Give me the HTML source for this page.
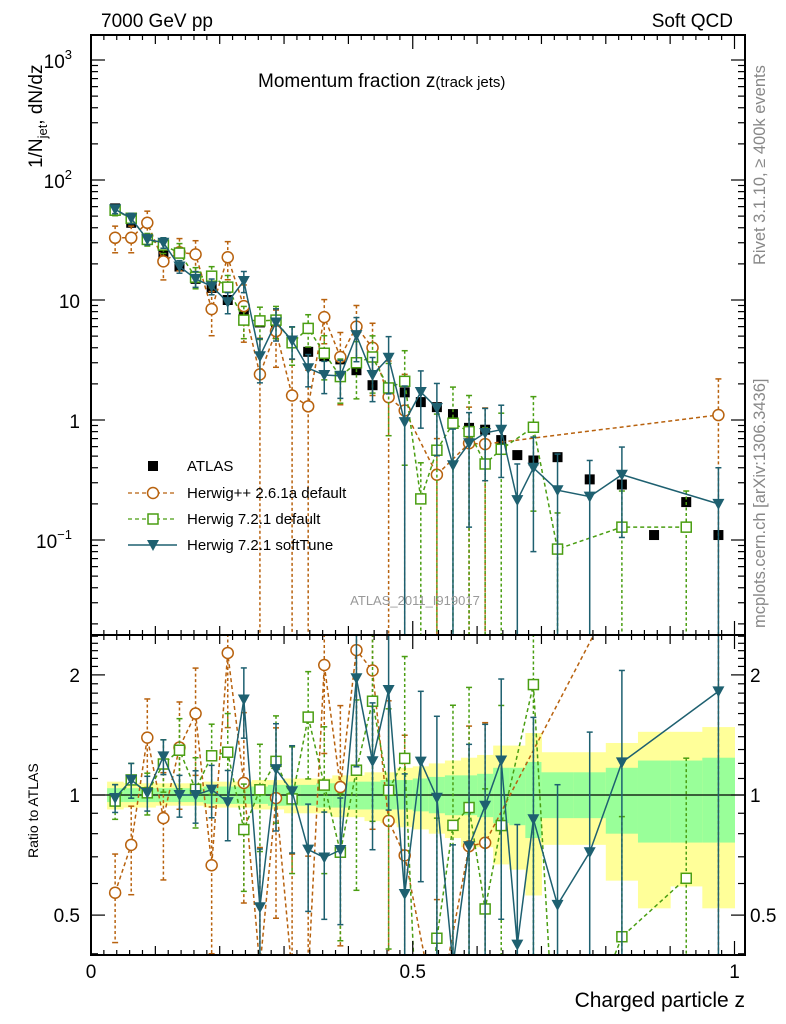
<!DOCTYPE html>
<html><head><meta charset="utf-8"><style>
html,body{margin:0;padding:0;background:#fff;width:786px;height:1024px;overflow:hidden;}
svg{display:block;font-family:"Liberation Sans",sans-serif;}
</style></head><body>
<svg id="chart" width="786" height="1024" viewBox="0 0 786 1024" xmlns="http://www.w3.org/2000/svg">
<defs>
<clipPath id="clipMain"><rect x="91" y="35" width="654" height="600"/></clipPath>
<clipPath id="clipRatio"><rect x="91" y="635" width="654" height="320"/></clipPath>
</defs>
<g id="bands" clip-path="url(#clipRatio)"></g>
<g id="plotMain" clip-path="url(#clipMain)"></g>
<g id="plotRatio" clip-path="url(#clipRatio)"></g>
<g id="axes"></g>
<text x="101" y="27" font-size="19">7000 GeV pp</text>
<text x="733" y="27" font-size="19" text-anchor="end">Soft QCD</text>
<text x="258" y="87" font-size="19">Momentum fraction z<tspan font-size="15">(track jets)</tspan></text>
<text transform="translate(42,168) rotate(-90)" font-size="19">1/N<tspan font-size="13" dy="5">jet</tspan><tspan dy="-5">, dN/dz</tspan></text>
<text transform="translate(765,265) rotate(-90)" font-size="16.5" fill="#888">Rivet 3.1.10, ≥ 400k events</text>
<text transform="translate(765,628) rotate(-90)" font-size="16.5" fill="#888">mcplots.cern.ch [arXiv:1306.3436]</text>
<text x="415" y="605" font-size="13" fill="#999" text-anchor="middle">ATLAS_2011_I919017</text>
<text transform="translate(38,858) rotate(-90)" font-size="14">Ratio to ATLAS</text>
<text x="745" y="1007" font-size="21" text-anchor="end">Charged particle z</text>
<g>
 <rect x="148" y="461" width="10" height="10" fill="#000"/>
 <text x="187" y="471" font-size="15">ATLAS</text>
 <line x1="128" y1="493" x2="177" y2="493" stroke="#b8620e" stroke-width="1.3" stroke-dasharray="4,3"/>
 <circle cx="153" cy="493" r="5.5" fill="#fff" stroke="#b8620e" stroke-width="1.5"/>
 <text x="187" y="498" font-size="15">Herwig++ 2.6.1a default</text>
 <line x1="128" y1="519" x2="177" y2="519" stroke="#4a9e12" stroke-width="1.3" stroke-dasharray="4,3"/>
 <rect x="148" y="514" width="10" height="10" fill="#fff" stroke="#4a9e12" stroke-width="1.5"/>
 <text x="187" y="524" font-size="15">Herwig 7.2.1 default</text>
 <line x1="128" y1="545" x2="177" y2="545" stroke="#1e6070" stroke-width="1.5"/>
 <path d="M147,540 L159,540 L153,551 Z" fill="#1e6070"/>
 <text x="187" y="550" font-size="15">Herwig 7.2.1 softTune</text>
</g>
</svg>
<script>
const zVals=[0.0375,0.0625,0.0875,0.1125,0.1375,0.1625,0.1875,0.2125,0.2375,0.2625,0.2875,0.3125,0.3375,0.3625,0.3875,0.4125,0.4375,0.4625,0.4875,0.5125,0.5375,0.5625,0.5875,0.6125,0.6375,0.6625,0.6875,0.725,0.775,0.825,0.875,0.925,0.975];
const binLo=[0.025,0.05,0.075,0.1,0.125,0.15,0.175,0.2,0.225,0.25,0.275,0.3,0.325,0.35,0.375,0.4,0.425,0.45,0.475,0.5,0.525,0.55,0.575,0.6,0.625,0.65,0.675,0.7,0.75,0.8,0.85,0.9,0.95];
const binHi=[0.05,0.075,0.1,0.125,0.15,0.175,0.2,0.225,0.25,0.275,0.3,0.325,0.35,0.375,0.4,0.425,0.45,0.475,0.5,0.525,0.55,0.575,0.6,0.625,0.65,0.675,0.7,0.75,0.8,0.85,0.9,0.95,1.0];
const atlasVals=[58,44,31.6,24,19,15,12.6,10,8.3,6.5,5.6,4.5,3.7,3.4,3.2,2.6,1.95,1.8,1.7,1.41,1.28,1.12,0.86,0.83,0.68,0.51,0.46,0.49,0.32,0.29,0.11,0.207,0.11];
const herwigppVals=[33,33,44,21,25,24,8.4,22.7,8.9,2.4,5.5,1.6,1.3,7.2,3.35,6.0,4.0,1.55,1.2,null,0.35,null,0.64,0.63,null,null,null,null,null,null,null,null,1.1];
const herwigppErr=[0.25,0.25,0.25,0.3,0.3,0.3,0.4,0.35,0.5,1,0.5,1,1,0.4,0.6,0.5,0.6,1,1,0,1,0,1,1,0,0,0,0,0,0,0,0,1];
const herwig7Vals=[56,48,32,28.7,24.6,15.5,15.8,12.8,6.8,6.7,6.8,4.4,5.8,3.6,2.3,3.0,3.35,1.85,2.1,0.22,0.56,0.94,0.8,0.43,0.57,null,0.87,0.084,null,0.128,null,0.128,null];
const herwig7Err=[0.1,0.1,0.12,0.15,0.2,0.2,0.2,0.25,0.3,0.3,0.3,0.35,0.3,0.4,0.4,0.5,0.5,0.6,0.8,1,1,1,1,1,1,0,0.8,1,0,1,0,1,0];
const softTuneVals=[57,48,32,30,19,15,13,9.6,14.4,3.4,6.5,4.6,2.7,2.37,2.33,5.1,2.37,3.3,0.96,1.71,1.26,0.42,0.64,0.78,0.83,0.215,0.4,0.26,0.23,0.35,null,null,0.2];
const softTuneErr=[0.08,0.1,0.1,0.1,0.12,0.15,0.15,0.2,0.2,0.4,0.3,0.3,0.3,0.3,0.35,0.4,0.4,0.5,1,0.5,0.6,1,0.8,0.6,0.6,1,0.8,1,1,0.7,0,0,1];
const bandYellowUp=[1.08,1.07,1.07,1.07,1.07,1.07,1.08,1.08,1.08,1.09,1.09,1.1,1.1,1.1,1.12,1.12,1.14,1.14,1.17,1.18,1.2,1.22,1.24,1.26,1.33,1.33,1.43,1.28,1.28,1.35,1.44,1.44,1.48];
const bandYellowDn=[0.92,0.93,0.93,0.94,0.94,0.94,0.93,0.93,0.93,0.92,0.92,0.9,0.9,0.9,0.88,0.88,0.86,0.85,0.83,0.82,0.8,0.78,0.74,0.74,0.67,0.65,0.56,0.75,0.75,0.61,0.52,0.59,0.52];
const bandGreenUp=[1.04,1.04,1.04,1.04,1.04,1.04,1.05,1.05,1.05,1.05,1.06,1.06,1.06,1.07,1.07,1.08,1.08,1.09,1.09,1.1,1.11,1.12,1.12,1.13,1.17,1.17,1.21,1.14,1.14,1.17,1.22,1.22,1.24];
const bandGreenDn=[0.96,0.96,0.96,0.96,0.96,0.96,0.95,0.95,0.95,0.95,0.94,0.94,0.94,0.93,0.93,0.92,0.92,0.92,0.92,0.91,0.9,0.89,0.89,0.88,0.85,0.84,0.78,0.875,0.875,0.8,0.76,0.76,0.76];
const mainTicks=[-1,0,1,2,3];
const mainTickLabels=["10","1","10","10","10"];
const mainTickSup=["−1","","","2","3"];
const ratioTicks=[0.5,1,2];
const ratioTickLabels=["0.5","1","2"];
const xTicks=[0,0.5,1];
const xTickLabels=["0","0.5","1"];

const NS="http://www.w3.org/2000/svg";
const X0=91,X1=745,ZMAX=(745-91)/643.5;
function xS(z){return 91+z*643.5;}
function yM(v){return 420-120*Math.log10(v);}
function yR(r){return 795-399*Math.log10(r);}
function mk(tag,attrs,parent){const e=document.createElementNS(NS,tag);for(const k in attrs)e.setAttribute(k,attrs[k]);parent.appendChild(e);return e;}
const gMain=document.getElementById('plotMain'),gRatio=document.getElementById('plotRatio'),gBands=document.getElementById('bands'),gAxes=document.getElementById('axes');

for(let i=0;i<binLo.length;i++){
  const a=xS(binLo[i]),b=xS(binHi[i]);
  const y1=mk('rect',{x:a,y:yR(bandYellowUp[i]),width:b-a+0.5,height:yR(bandYellowDn[i])-yR(bandYellowUp[i]),fill:'#ffff99'},gBands);
  
  
  const g1=mk('rect',{x:a,y:yR(bandGreenUp[i]),width:b-a+0.5,height:yR(bandGreenDn[i])-yR(bandGreenUp[i]),fill:'#99ff99'},gBands);
  
  
}
mk('line',{x1:X0,y1:yR(1),x2:X1,y2:yR(1),stroke:'#000','stroke-width':1.2},gBands);

function drawSeries(vals,errs,color,dashed,marker,name,parent,yf,isRatio){
  const pts=[];
  const g=mk('g',{},parent);
  
  
  const yBottom=isRatio?956:636, yTop=isRatio?634:34;
  for(let i=0;i<vals.length;i++){
    if(vals[i]==null)continue;
    let v=isRatio?vals[i]/atlasVals[i]:vals[i];
    const x=xS(zVals[i]),y=yf(v);
    pts.push([x,y]);
    const f=errs[i];
    const yt=Math.max(yTop,yf(v*(1+f)));
    const yb=f>=1?yBottom:Math.min(yBottom,yf(v*(1-f)));
    const da=dashed?{'stroke-dasharray':'3,2.5'}:{};
    mk('line',Object.assign({x1:x,y1:yt,x2:x,y2:yb,stroke:color,'stroke-width':1.5},da),g);
    mk('line',{x1:x-3,y1:yt,x2:x+3,y2:yt,stroke:color,'stroke-width':1.5},g);
    if(f<1)mk('line',{x1:x-3,y1:yb,x2:x+3,y2:yb,stroke:color,'stroke-width':1.5},g);
  }
  const d=pts.map((p,k)=>(k?'L':'M')+p[0].toFixed(1)+','+p[1].toFixed(1)).join(' ');
  mk('path',Object.assign({d:d,fill:'none',stroke:color,'stroke-width':1.5},dashed?{'stroke-dasharray':'4,3'}:{}),g);
  pts.forEach(([x,y])=>{
    let m;
    if(marker==='circle')m=mk('circle',{cx:x,cy:y,r:5.5,fill:'#fff',stroke:color,'stroke-width':1.5},g);
    else if(marker==='osq')m=mk('rect',{x:x-5,y:y-5,width:10,height:10,fill:'#fff',stroke:color,'stroke-width':1.5},g);
    else m=mk('path',{d:`M${x-6},${y-5} L${x+6},${y-5} L${x},${y+6} Z`,fill:color},g);
    
    
  });
}
const gA=mk('g',{},gMain);


for(let i=0;i<atlasVals.length;i++){
  const r=mk('rect',{x:xS(zVals[i])-5,y:yM(atlasVals[i])-5,width:10,height:10,fill:'#000'},gA);
  
  
}
drawSeries(herwigppVals,herwigppErr,'#b8620e',true,'circle','herwigpp-series',gMain,yM,false);
drawSeries(herwig7Vals,herwig7Err,'#4a9e12',true,'osq','herwig7-default-series',gMain,yM,false);
drawSeries(softTuneVals,softTuneErr,'#1e6070',false,'tri','herwig7-softtune-series',gMain,yM,false);
drawSeries(herwigppVals,herwigppErr,'#b8620e',true,'circle','herwigpp-series',gRatio,yR,true);
drawSeries(herwig7Vals,herwig7Err,'#4a9e12',true,'osq','herwig7-default-series',gRatio,yR,true);
drawSeries(softTuneVals,softTuneErr,'#1e6070',false,'tri','herwig7-softtune-series',gRatio,yR,true);

mk('rect',{x:X0,y:35,width:X1-X0,height:600,fill:'none',stroke:'#000','stroke-width':2},gAxes);
mk('rect',{x:X0,y:635,width:X1-X0,height:320,fill:'none',stroke:'#000','stroke-width':2},gAxes);
for(let d=-2;d<=3;d++){for(let m=1;m<=9;m++){
  const y=yM(m*Math.pow(10,d)); if(y<36||y>634)continue;
  const L=m===1?14:7;
  mk('line',{x1:X0,y1:y,x2:X0+L,y2:y,stroke:'#000','stroke-width':1.2},gAxes);
  mk('line',{x1:X1,y1:y,x2:X1-L,y2:y,stroke:'#000','stroke-width':1.2},gAxes);
}}
mainTicks.forEach((p,i)=>{
  const t=mk('text',{x:mainTickSup[i]?72:80,y:yM(Math.pow(10,p))+8,'font-size':19,'text-anchor':'end'},gAxes);
  t.textContent=mainTickLabels[i];
  
  
  if(mainTickSup[i]){const s=mk('tspan',{'font-size':13,dy:-9},t);s.textContent=mainTickSup[i];}
});
for(let r=0.4;r<2.55;r+=0.1){
  const rr=Math.round(r*10)/10;const y=yR(rr);if(y<636||y>954)continue;
  const L=(rr===0.5||rr===1||rr===2)?14:7;
  mk('line',{x1:X0,y1:y,x2:X0+L,y2:y,stroke:'#000','stroke-width':1.2},gAxes);
  mk('line',{x1:X1,y1:y,x2:X1-L,y2:y,stroke:'#000','stroke-width':1.2},gAxes);
}
ratioTicks.forEach((r,i)=>{
  const t=mk('text',{x:80,y:yR(r)+7,'font-size':19,'text-anchor':'end'},gAxes);
  t.textContent=ratioTickLabels[i];
  
  
  const t2=mk('text',{x:750,y:yR(r)+7,'font-size':19},gAxes);
  t2.textContent=ratioTickLabels[i];
  
  
});
for(let k=0;k<=50;k++){
  const z=k*0.02; if(z>ZMAX)break;
  const major=(k%25===0),mid=(k%5===0);
  const L=major?14:(mid?9:5);
  const x=xS(z);
  [[35,1],[635,-1],[635,1],[955,-1]].forEach(([y0,s])=>mk('line',{x1:x,y1:y0,x2:x,y2:y0+s*L,stroke:'#000','stroke-width':1.2},gAxes));
}
xTicks.forEach((z,i)=>{
  const t=mk('text',{x:xS(z),y:978,'font-size':19,'text-anchor':'middle'},gAxes);
  t.textContent=xTickLabels[i];
  
  
});
</script>
</body></html>
